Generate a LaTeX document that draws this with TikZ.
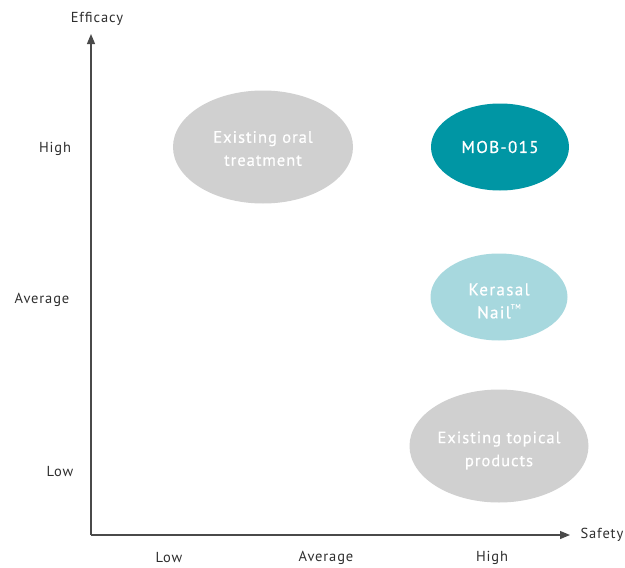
\documentclass[tikz,border=0pt]{standalone}
\usepackage{fontspec}
\setmainfont{PT Sans}
\usetikzlibrary{shapes.geometric,arrows.meta}
\definecolor{bubblegray}{HTML}{D0D0D0}
\definecolor{teal015}{HTML}{0096A4}
\definecolor{lightteal}{HTML}{A7D8DE}
\definecolor{axisgray}{HTML}{4A4A4A}
\definecolor{labelgray}{HTML}{2E2E2E}
\begin{document}
\begin{tikzpicture}[x=1pt,y=-1pt,
  bubble/.style={ellipse,inner sep=0pt},
  bubbletext/.style={text=white,align=center,inner sep=0pt,font=\fontsize{16.5}{23}\selectfont\addfontfeature{LetterSpace=6,FakeBold=0.6}},
  bigtext/.style={text=white,align=center,inner sep=0pt,font=\fontsize{17}{23}\selectfont\addfontfeature{LetterSpace=8,FakeBold=0.7}},
  axislabel/.style={text=labelgray,font=\fontsize{14.5}{17}\selectfont\addfontfeature{LetterSpace=6}},
  axisline/.style={draw=axisgray,line width=1.2pt,-{Triangle[length=10pt,width=8pt]}}]
\useasboundingbox (0,0) rectangle (625,568);
% axes
\coordinate (origin) at (91,535);
\coordinate (ytip) at (91,34);
\coordinate (xtip) at (570,535);
\draw[axisline] (origin) -- (ytip);
\draw[axisline] (origin) -- (xtip);
\node[axislabel] (efficacy) at (97,19) {Efficacy};
\node[axislabel,anchor=west] (safety) at (577,535) {Safety};
% vertical scale
\node[axislabel] (yhigh) at (55,149) {High};
\node[axislabel] (yavg) at (42,300) {Average};
\node[axislabel] (ylow) at (60,472) {Low};
% horizontal scale
\node[axislabel] (xlow) at (169,558) {Low};
\node[axislabel] (xavg) at (326,558) {Average};
\node[axislabel] (xhigh) at (492,558) {High};
% product bubbles
\node[bubble,fill=bubblegray,minimum width=180pt,minimum height=113pt] (oral) at (263,147) {};
\node[bubble,fill=teal015,minimum width=138pt,minimum height=87pt] (mob) at (500,147) {};
\node[bubble,fill=lightteal,minimum width=137pt,minimum height=87pt] (kerasal) at (499,297) {};
\node[bubble,fill=bubblegray,minimum width=179pt,minimum height=113pt] (topical) at (499,446) {};
% product names (y axis points down, so a negative shift lowers the text)
\node[bubbletext] (oraltext) at ([yshift=-1.5pt]oral.center) {Existing oral\\treatment};
\node[bigtext,font=\fontsize{17}{23}\selectfont\addfontfeature{LetterSpace=8,FakeBold=0.8}] (mobtext) at (mob.center) {MOB-015};
\node[bigtext] (kerasaltext) at ([yshift=-4pt]kerasal.center) {Kerasal\\Nail\raisebox{0.55em}{\fontsize{7}{8}\selectfont TM}};
\node[bubbletext] (topicaltext) at ([yshift=-4.5pt]topical.center) {Existing topical\\products};
\end{tikzpicture}
\end{document}
